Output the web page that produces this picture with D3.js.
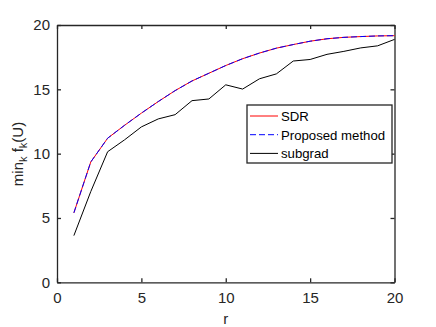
<!doctype html>
<html>
<head>
<meta charset="utf-8">
<script src="https://d3js.org/d3.v7.min.js"></script>
<style>
body { margin: 0; background: #fff; }
text { font-family: "Liberation Sans", Arial, sans-serif; fill: #262626; }
</style>
</head>
<body>
<svg width="436" height="327"></svg>
<script>
// data
var r = d3.range(1, 21);
var sdr = [5.4, 9.35, 11.2, 12.2, 13.15, 14.05, 14.9, 15.65, 16.25, 16.85, 17.38, 17.82, 18.2, 18.48, 18.74, 18.93, 19.04, 19.1, 19.15, 19.17];
var proposed = sdr.slice();
var subgrad = [3.63, 7.05, 10.15, 11.07, 12.08, 12.7, 13.03, 14.12, 14.25, 15.35, 15.02, 15.82, 16.2, 17.2, 17.32, 17.72, 17.95, 18.22, 18.38, 18.88];
var xTicks = [0, 5, 10, 15, 20];
var yTicks = [0, 5, 10, 15, 20];

var svg = d3.select("svg");
var mLeft = 57, mRight = 394.5, mTop = 25, mBottom = 282.3;

var x = d3.scaleLinear().domain([0, 20]).range([mLeft, mRight]);
var y = d3.scaleLinear().domain([0, 20]).range([mBottom, mTop]);

var axisColor = "#262626";

// axes (MATLAB box with inward ticks)
svg.append("g").attr("transform", "translate(0," + mBottom + ")")
    .call(d3.axisBottom(x).tickValues(xTicks).tickSizeInner(-4).tickSizeOuter(0).tickPadding(10).tickFormat(d3.format("d")));
svg.append("g").attr("transform", "translate(" + mLeft + ",0)")
    .call(d3.axisLeft(y).tickValues(yTicks).tickSizeInner(-4).tickSizeOuter(0).tickPadding(7).tickFormat(d3.format("d")));
svg.append("g").attr("transform", "translate(0," + mTop + ")")
    .call(d3.axisTop(x).tickValues(xTicks).tickSizeInner(-4).tickSizeOuter(0).tickFormat(""));
svg.append("g").attr("transform", "translate(" + mRight + ",0)")
    .call(d3.axisRight(y).tickValues(yTicks).tickSizeInner(-4).tickSizeOuter(0).tickFormat(""));

svg.selectAll(".domain").attr("stroke", axisColor).attr("stroke-width", 1.3);
svg.selectAll(".tick line").attr("stroke", axisColor).attr("stroke-width", 1.3);
svg.selectAll(".tick text").attr("font-size", 15).style("fill", axisColor)
    .style("font-family", "'Liberation Sans', Arial, sans-serif");

// lines
var line = d3.line().x(function(d, i) { return x(r[i]); }).y(function(d) { return y(d); });

svg.append("path").datum(subgrad).attr("d", line)
    .attr("fill", "none").attr("stroke", "#000").attr("stroke-width", 1);
svg.append("path").datum(sdr).attr("d", line)
    .attr("fill", "none").attr("stroke", "#ff0000").attr("stroke-width", 1);
svg.append("path").datum(proposed).attr("d", line)
    .attr("fill", "none").attr("stroke", "#0000ff").attr("stroke-width", 1)
    .attr("stroke-dasharray", "6,3");

// axis labels
svg.append("text").attr("x", x(10)).attr("y", 324).attr("text-anchor", "middle")
    .attr("font-size", 15).text("r");

var yl = svg.append("text").attr("transform", "translate(23,154) rotate(-90)")
    .attr("text-anchor", "middle").attr("font-size", 15);
yl.append("tspan").text("min");
yl.append("tspan").attr("font-size", 11).attr("dy", 4).text("k");
yl.append("tspan").attr("dy", -4).text(" f");
yl.append("tspan").attr("font-size", 11).attr("dy", 4).text("k");
yl.append("tspan").attr("dy", -4).text("(U)");

// legend
var lg = svg.append("g").attr("transform", "translate(247,105)");
lg.append("rect").attr("width", 145).attr("height", 58)
    .attr("fill", "#fff").attr("stroke", axisColor).attr("stroke-width", 1.3);
var items = [
    { name: "SDR", color: "#ff0000", dash: null },
    { name: "Proposed method", color: "#0000ff", dash: "6,3" },
    { name: "subgrad", color: "#000", dash: null }
];
items.forEach(function(it, i) {
    var yy = 11 + i * 18.7;
    lg.append("line").attr("x1", 3).attr("x2", 31).attr("y1", yy).attr("y2", yy)
        .attr("stroke", it.color).attr("stroke-width", 1)
        .attr("stroke-dasharray", it.dash);
    lg.append("text").attr("x", 34).attr("y", yy + 5).attr("font-size", 13.2)
        .style("fill", "#000").text(it.name);
});
</script>
</body>
</html>
